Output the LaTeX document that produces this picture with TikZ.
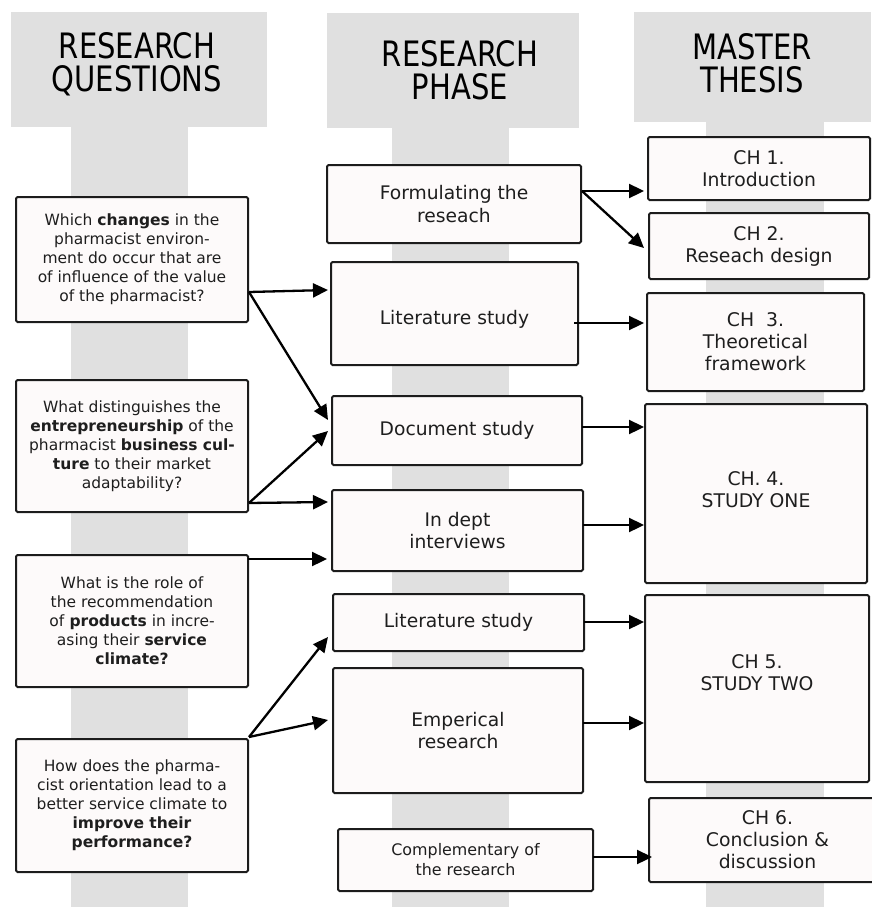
\documentclass[tikz,border=0pt]{standalone}
\usepackage{fontspec}
\setmainfont{DejaVu Sans}
\newfontfamily\headfont[FakeStretch=0.83]{DejaVu Sans}
\usetikzlibrary{arrows.meta,calc}
\definecolor{bandgray}{RGB}{224,224,224}
\definecolor{boxfill}{RGB}{253,250,250}
\definecolor{boxline}{RGB}{28,28,28}
\definecolor{inkc}{RGB}{30,30,30}

\begin{document}
\begin{tikzpicture}[x=1pt,y=-1pt,
  box/.style={draw=boxline, line width=2pt, fill=boxfill, rounded corners=1.5pt,
              inner sep=0pt, outer sep=0pt, align=center, text=inkc},
  qfont/.style={font=\fontsize{15.5}{19}\selectfont},
  pfont/.style={font=\fontsize{18.7}{22.7}\selectfont},
  cfont/.style={font=\fontsize{18.8}{22}\selectfont},
  qbox/.style={box, qfont, minimum width=232pt},
  pbox/.style={box, pfont},
  cbox/.style={box, cfont},
  head/.style={align=center, text=black, inner sep=0pt,
               font=\headfont\fontsize{35}{33}\selectfont},
  link/.style={line width=2.3pt, draw=black,
               -{Triangle[length=15pt,width=14pt]}},
]
\useasboundingbox (0,0) rectangle (871,907);

% grey column headers and their stems
\fill[bandgray] (11,12) rectangle (267,127);
\fill[bandgray] (71,127) rectangle (188,907);
\fill[bandgray] (327,13) rectangle (579,128);
\fill[bandgray] (392,128) rectangle (509,907);
\fill[bandgray] (634,12) rectangle (871,122);
\fill[bandgray] (706,122) rectangle (824,907);

\node[head] (hq) at (137,64) {RESEARCH\\QUESTIONS};
\node[head] (hp) at (460,70) {RESEARCH\\PHASE};
\node[head] (hm) at (752,63) {MASTER\\THESIS};

% research questions
\node[qbox, minimum height=125pt] (q1) at (132,259.5)
  {Which \textbf{changes} in the\\pharmacist environ-\\ment do occur that are\\of influence of the value\\of the pharmacist?};
\node[qbox, minimum height=132pt] (q2) at (132,446)
  {What distinguishes the\\\textbf{entrepreneurship} of the\\pharmacist \textbf{business cul-}\\\textbf{ture} to their market\\adaptability?};
\node[qbox, minimum height=132pt] (q3) at (132,621)
  {What is the role of\\the recommendation\\of \textbf{products} in incre-\\asing their \textbf{service}\\\textbf{climate?}};
\node[qbox, minimum height=133pt] (q4) at (132,805.5)
  {How does the pharma-\\cist orientation lead to a\\better service climate to\\\textbf{improve their}\\\textbf{performance?}};

% research phase
\node[pbox, minimum width=254pt, minimum height=78pt] (f1) at (454,204)
  {Formulating the\\reseach};
\node[pbox, minimum width=247pt, minimum height=103pt,
      label={[pfont, text=inkc, yshift=-6pt]center:Literature study}] (l1) at (454.5,313.5) {};
\node[pbox, minimum width=250pt, minimum height=69pt] (d1) at (457,430.5)
  {Document study};
\node[pbox, minimum width=251pt, minimum height=81pt] (i1) at (457.5,530.5)
  {In dept\\interviews};
\node[pbox, minimum width=251pt, minimum height=57pt] (l2) at (458.5,622.5)
  {Literature study};
\node[pbox, minimum width=250pt, minimum height=125pt] (e1) at (458,730.5)
  {Emperical\\research};
\node[box, font=\fontsize{15.9}{20}\selectfont, minimum width=255pt, minimum height=62pt] (c1) at (465.5,860)
  {Complementary of\\the research};

% master thesis chapters
\node[cbox, minimum width=222pt, minimum height=63pt] (ch1) at (759,168.5)
  {CH 1.\\Introduction};
\node[cbox, minimum width=220pt, minimum height=66pt] (ch2) at (759,246)
  {CH 2.\\Reseach design};
\node[cbox, minimum width=217pt, minimum height=98pt] (ch3) at (755.5,342)
  {CH\ \ 3.\\Theoretical\\framework};
\node[cbox, minimum width=222pt, minimum height=179pt,
      label={[cfont, align=center, text=inkc, yshift=4pt]center:CH. 4.\\STUDY ONE}] (ch4) at (756,493.5) {};
\node[cbox, minimum width=224pt, minimum height=187pt,
      label={[cfont, align=center, text=inkc, yshift=16pt]center:CH 5.\\STUDY TWO}] (ch5) at (757,688.5) {};
\node[cbox, minimum width=237pt, minimum height=84pt] (ch6) at (767.5,840)
  {CH 6.\\Conclusion \&\\discussion};

% questions -> research phase
\draw[link] ($(q1.north east)+(1,95)$) -- ($(l1.north west)+(-3,28)$);
\draw[link] ($(q1.north east)+(1,95)$) -- ($(d1.north west)+(-4,24)$);
\draw[link] ($(q2.north east)+(1,123)$) -- ($(d1.north west)+(-4,35)$);
\draw[link] ($(q2.north east)+(1,123)$) -- ($(i1.north west)+(-4,12)$);
\draw[link] ($(q3.north east)+(0,4)$) -- ($(i1.north west)+(-5,69)$);
\draw[link] ($(q4.north east)+(1,-2)$) -- ($(l2.north west)+(-5,43)$);
\draw[link] ($(q4.north east)+(1,-2)$) -- ($(e1.north west)+(-5,52)$);

% research phase -> chapters
\draw[link] ($(f1.north east)+(1,26)$) -- ($(ch1.north west)+(-4,54)$);
\draw[link] ($(f1.north east)+(1,26)$) -- ($(ch2.north west)+(-5,35)$);
\draw[link] ($(l1.north east)+(-4,61)$) -- ($(ch3.north west)+(-3,30)$);
\draw[link] ($(d1.north east)+(0,31)$) -- ($(ch4.north west)+(-1,23)$);
\draw[link] ($(i1.north east)+(0,35)$) -- ($(ch4.north west)+(-1,121)$);
\draw[link] ($(l2.north east)+(0,28)$) -- ($(ch5.north west)+(-1,27)$);
\draw[link] ($(e1.north east)+(0,55)$) -- ($(ch5.north west)+(-1,128)$);
\draw[link] ($(c1.north east)+(0,28)$) -- ($(ch6.north west)+(3,59)$);
\end{tikzpicture}
\end{document}
